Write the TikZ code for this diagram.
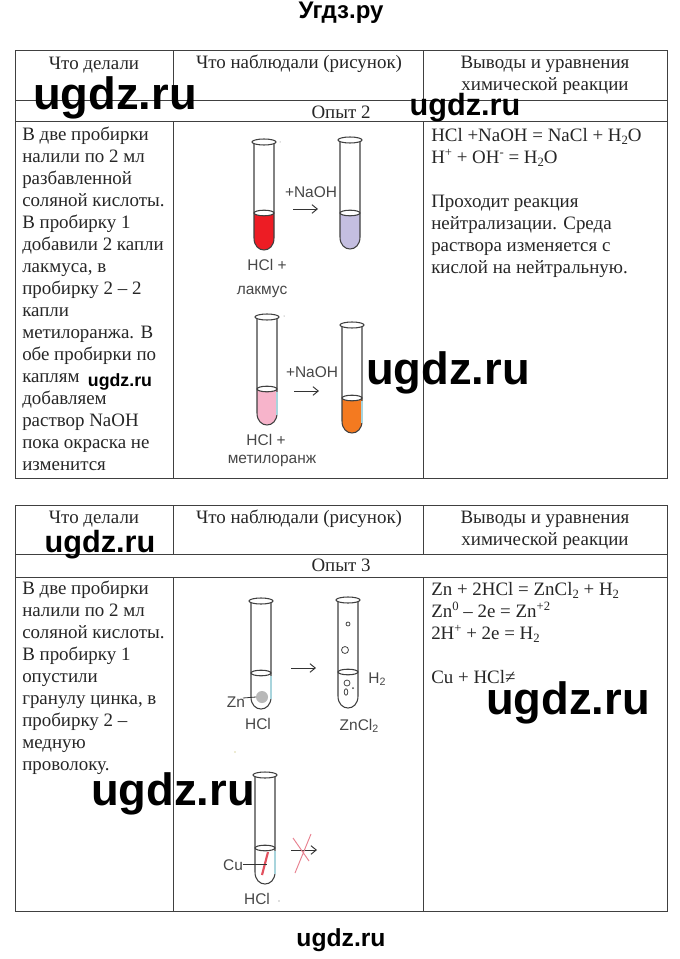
\documentclass[tikz,border=0pt]{standalone}
\usepackage{fontspec}
\usetikzlibrary{arrows.meta}
\setmainfont{Liberation Serif}
\newfontfamily\labfont{Liberation Sans}
\definecolor{litmusred}{HTML}{ED1C24}
\definecolor{lavender}{HTML}{C4BEE0}
\definecolor{mopink}{HTML}{F7B4CB}
\definecolor{moorange}{HTML}{F47A20}
\definecolor{tubeblue}{HTML}{A8D4DC}
\definecolor{cuwire}{HTML}{E2505E}
\definecolor{crossred}{HTML}{E8808F}
\newcommand{\subx}[1]{\raisebox{-0.35ex}{\fontsize{9.5}{10}\selectfont #1}}
\newcommand{\supx}[1]{\raisebox{0.8ex}{\fontsize{9.5}{10}\selectfont #1}}
\newcommand{\labsub}[1]{\raisebox{-0.3ex}{\fontsize{8}{9}\selectfont #1}}
\newcommand{\tube}[5]{%
  \ifx&#5&\else
  \fill[#5] ({#1-10},#4) -- ({#1-10},{#3-12}) .. controls ({#1-10},{#3+4}) and ({#1+10},{#3+4}) .. ({#1+10},{#3-12}) -- ({#1+10},#4) -- cycle;
  \fi
  \draw[tubeline] ({#1-10},#2) -- ({#1-10},{#3-12}) .. controls ({#1-10},{#3+4}) and ({#1+10},{#3+4}) .. ({#1+10},{#3-12}) -- ({#1+10},#2);
  \draw[tubeline,fill=white] (#1,#4) ellipse [x radius=10,y radius=2.8];
  \draw[tubeline,fill=white] (#1,#2) ellipse [x radius=12,y radius=3];
}
\newcommand{\bluefoot}[3]{\draw[tubeblue,line width=0.8pt] ({#1+10},{#2+3}) -- ({#1+10},#3);}
\tikzset{
  rule/.style={draw=black!75,line width=0.75pt},
  tubeline/.style={draw=black!75,line width=0.8pt},
  body/.style={font=\fontsize{14.2}{16.5}\selectfont,align=left,anchor=north west,inner sep=0pt,text=black!85},
  head/.style={font=\fontsize{14.2}{16.5}\selectfont,align=center,inner sep=0pt,text=black!85},
  lab/.style={font=\labfont\fontsize{11.6}{13}\selectfont,inner sep=0pt,text=black!72},
  reactarrow/.style={draw=black!80,line width=0.7pt,-{Straight Barb[length=4pt,width=6.5pt]}},
  wm/.style={inner sep=0pt,text=black},
  speck/.style={fill=black!55},
}
\begin{document}
\begin{tikzpicture}[x=0.75pt,y=-0.75pt]
\useasboundingbox (0,0) rectangle (680,959);
\fill[white] (0,0) rectangle (680,959);

% tables
\draw[rule] (15,51) rectangle (667,478);
\draw[rule] (15,101) -- (667,101);
\draw[rule] (15,122) -- (667,122);
\draw[rule] (173,51) -- (173,101) (173,122) -- (173,478);
\draw[rule] (423,51) -- (423,101) (423,122) -- (423,478);

\draw[rule] (15,505) rectangle (667,911);
\draw[rule] (15,554) -- (667,554);
\draw[rule] (15,577) -- (667,577);
\draw[rule] (173,505) -- (173,554) (173,577) -- (173,911);
\draw[rule] (423,505) -- (423,554) (423,577) -- (423,911);

% headers 1
\node[head] (h1a) at (94,65) {Что делали};
\node[head] (h1b) at (299,64) {Что наблюдали (рисунок)};
\node[head] (h1c) at (545,75) {Выводы и уравнения\\химической реакции};
\node[head] (o2) at (341,112) {Опыт 2};
% headers 2
\node[head] (h2a) at (94,519) {Что делали};
\node[head] (h2b) at (299,519) {Что наблюдали (рисунок)};
\node[head] (h2c) at (545,530) {Выводы и уравнения\\химической реакции};
\node[head] (o3) at (341,565) {Опыт 3};

% left columns
\node[body] (l1) at (22,126.5) {В две пробирки\\налили по 2 мл\\разбавленной\\соляной кислоты.\\В пробирку 1\\добавили 2 капли\\лакмуса, в\\пробирку 2 – 2\\капли\\метилоранжа. В\\обе пробирки по\\каплям\\добавляем\\раствор NaOH\\пока окраска не\\изменится};
\node[body] (l2) at (22,581) {В две пробирки\\налили по 2 мл\\соляной кислоты.\\В пробирку 1\\опустили\\гранулу цинка, в\\пробирку 2 –\\медную\\проволоку.};

% right columns
\node[body] (r1) at (431,128) {HCl +NaOH = NaCl + H\subx{2}O\\H\supx{+} + OH\supx{-} = H\subx{2}O\\[16.5pt]Проходит реакция\\нейтрализации. Среда\\раствора изменяется с\\кислой на нейтральную.};
\node[body] (r2) at (431,582) {Zn + 2HCl = ZnCl\subx{2} + H\subx{2}\\Zn\supx{0} – 2e = Zn\supx{+2}\\2H\supx{+} + 2e = H\subx{2}\\[16.5pt]Cu + HCl≠};

% experiment 2 tubes
\tube{264}{142}{250}{213}{litmusred}
\tube{350}{140}{249}{213}{lavender}
\tube{267}{317}{425}{389}{mopink}
\bluefoot{267}{389}{415}
\tube{352}{325}{433}{398}{moorange}
\bluefoot{352}{398}{423}
\coordinate (a1s) at (293,209); \coordinate (a1e) at (318,209);
\draw[reactarrow] (a1s) -- (a1e);
\coordinate (a2s) at (294,391); \coordinate (a2e) at (319,391);
\draw[reactarrow] (a2s) -- (a2e);
\node[lab] (n1) at (311,192) {+NaOH};
\node[lab] (n2) at (312,372) {+NaOH};
\node[lab] (t1) at (267,265) {HCl +};
\node[lab] (t2) at (262,292) {лакмус};
\node[lab] (t3) at (266,440) {HCl +};
\node[lab] (t4) at (272,461) {метилоранж};

% experiment 3 tubes
\tube{261}{601}{709}{673}{}
\bluefoot{261}{673}{699}
\fill[black!28] (262,697) circle (6);
\tube{348}{600}{708}{672}{}
\draw[black!72,line width=0.6pt] (348,624) circle (2) (345,650) circle (3.5) (347,683) circle (3);
\draw[black!72,line width=0.6pt] (346,692) ellipse [x radius=1.8,y radius=3.2];
\fill[black!72] (353,688) circle (1);
\tube{265}{775}{884}{848}{}
\bluefoot{265}{848}{874}
\draw[draw=cuwire,line width=1.6pt] (268,852) -- (262,875);
\coordinate (zs) at (243,698); \coordinate (ze) at (256,697);
\draw[black!80,line width=0.6pt] (zs) -- (ze);
\coordinate (cs) at (243,864); \coordinate (ce) at (267,864);
\draw[black!80,line width=0.6pt] (cs) -- (ce);
\coordinate (a3s) at (291,668); \coordinate (a3e) at (316,668);
\draw[reactarrow] (a3s) -- (a3e);
\coordinate (a4s) at (291,850); \coordinate (a4e) at (317,850);
\draw[reactarrow] (a4s) -- (a4e);
\draw[draw=crossred,line width=0.7pt] (311,834) -- (295,873) (293,838) -- (309,861);
\node[lab] (zn) at (236,702) {Zn};
\node[lab] (t5) at (258,724) {HCl};
\node[lab] (h2) at (377,679) {H\labsub{2}};
\node[lab] (t6) at (359,726) {ZnCl\labsub{2}};
\node[lab] (cu) at (233,865) {Cu};
\node[lab] (t7) at (257,899) {HCl};
\fill[speck] (279,901) circle (0.7) (280,142) circle (0.5) (284,316) circle (0.5);
\fill[yellow!60!black!40] (235,752) circle (0.8);

% watermarks
\node[wm,font=\labfont\bfseries\fontsize{18}{20}\selectfont] (w0) at (341,13) {Угдз.ру};
\node[wm,font=\labfont\bfseries\fontsize{34}{36}\selectfont] (w1) at (115,98) {ugdz.ru};
\node[wm,font=\labfont\bfseries\fontsize{23}{25}\selectfont] (w2) at (465,108) {ugdz.ru};
\node[wm,font=\labfont\bfseries\fontsize{34}{36}\selectfont] (w3) at (448,373) {ugdz.ru};
\node[wm,font=\labfont\bfseries\fontsize{13.3}{15}\selectfont] (w4) at (120,382) {ugdz.ru};
\node[wm,font=\labfont\bfseries\fontsize{23}{25}\selectfont] (w5) at (100,545) {ugdz.ru};
\node[wm,font=\labfont\bfseries\fontsize{34}{36}\selectfont] (w6) at (568,703) {ugdz.ru};
\node[wm,font=\labfont\bfseries\fontsize{34}{36}\selectfont] (w7) at (173,794) {ugdz.ru};
\node[wm,font=\labfont\bfseries\fontsize{18.5}{20}\selectfont] (w8) at (341,940) {ugdz.ru};
\end{tikzpicture}
\end{document}
